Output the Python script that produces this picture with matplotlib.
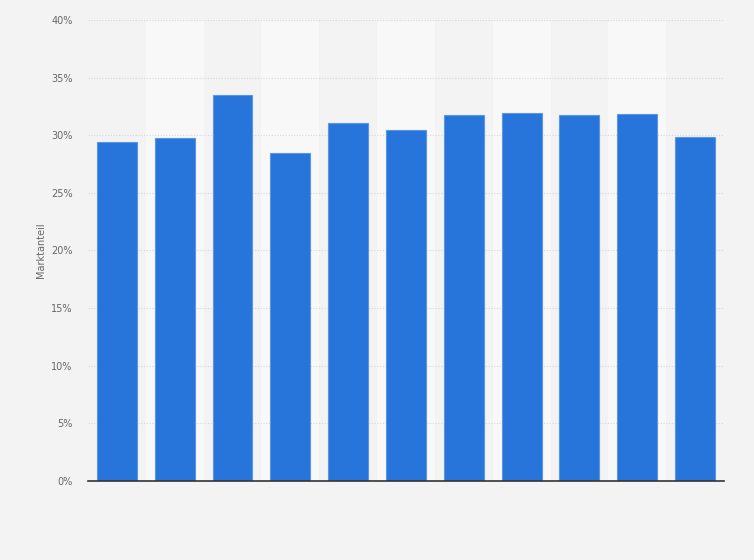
import matplotlib.pyplot as plt
import numpy as np

# Werte (Marktanteil in %)
categories = [str(i) for i in range(1, 12)]
shares = [29.4, 29.75, 33.5, 28.5, 31.1, 30.45, 31.75, 31.9, 31.75, 31.85, 29.85]
y_ticks = [0, 5, 10, 15, 20, 25, 30, 35, 40]

bg = "#f3f3f3"
band = "#f8f8f8"
bar_color = "#2775db"

fig = plt.figure(figsize=(7.54, 5.6), dpi=100, facecolor=bg)
ax = fig.add_axes([0.1167, 0.1411, 0.8435, 0.8232])
ax.set_facecolor(bg)

x = np.arange(len(categories))

# abwechselnde Hintergrundstreifen
for i in x:
    if i % 2 == 1:
        ax.axvspan(i - 0.5, i + 0.5, color=band, zorder=0, lw=0)

ax.bar(x, shares, width=0.69, color=bar_color, edgecolor="#5b96e6",
       linewidth=0.8, zorder=3)

ax.set_xlim(-0.5, len(categories) - 0.5)
ax.set_ylim(0, 40)
ax.set_yticks(y_ticks)
ax.set_yticklabels([f"{t}%" for t in y_ticks])
ax.set_xticks([])

ax.grid(axis="y", linestyle=(0, (1, 1.5)), color="#d6d6d6", linewidth=0.8, zorder=1)
ax.tick_params(axis="y", length=0, labelsize=7, labelcolor="#666666", pad=11)

for s in ["top", "right", "left"]:
    ax.spines[s].set_visible(False)
ax.spines["bottom"].set_color("#333333")
ax.spines["bottom"].set_linewidth(1.2)
ax.spines["bottom"].set_zorder(4)

ax.set_ylabel("Marktanteil", fontsize=7, color="#666666", labelpad=4)

fig.savefig("out.png", dpi=100, facecolor=bg)
